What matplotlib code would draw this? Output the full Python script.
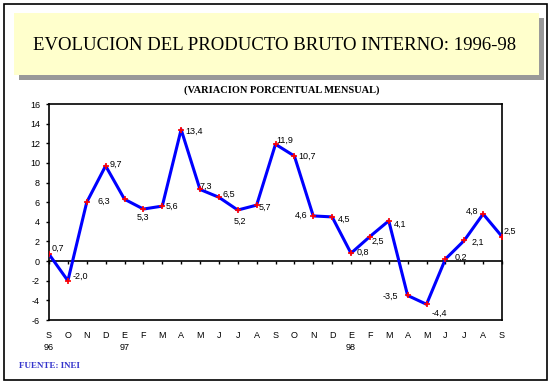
import numpy as np
import matplotlib.pyplot as plt
from matplotlib.patches import Rectangle

plt.rcParams['axes.unicode_minus'] = False

# datos: variacion porcentual mensual del PBI, set 96 - set 98
meses = ['S', 'O', 'N', 'D', 'E', 'F', 'M', 'A', 'M', 'J', 'J', 'A',
         'S', 'O', 'N', 'D', 'E', 'F', 'M', 'A', 'M', 'J', 'J', 'A', 'S']
anios = {0: '96', 4: '97', 16: '98'}
valores = [0.7, -2.0, 6.0, 9.7, 6.3, 5.3, 5.6, 13.4, 7.3, 6.5, 5.2, 5.7,
           11.9, 10.7, 4.6, 4.5, 0.8, 2.5, 4.1, -3.5, -4.4, 0.2, 2.1, 4.8, 2.5]
etiquetas = ['0,7', '-2,0', '', '9,7', '6,3', '5,3', '5,6', '13,4', '7,3', '6,5', '5,2', '5,7',
             '11,9', '10,7', '4,6', '4,5', '0,8', '2,5', '4,1', '-3,5', '-4,4', '0,2', '2,1', '4,8', '2,5']

# posicion de cada etiqueta (pixeles respecto al punto)
offs = [(3, 6, 'left'), (5, 4, 'left'), (0, 0, 'left'), (4, 2, 'left'), (-14, -2, 'right'),
        (0, -8, 'center'), (3, 0, 'left'), (4, -2, 'left'), (0, 3, 'left'), (4, 3, 'left'),
        (2, -11, 'center'), (2, -2, 'left'), (1, 4, 'left'), (4, 0, 'left'), (-6, 1, 'right'),
        (6, -2, 'left'), (6, 1, 'left'), (2, -5, 'left'), (5, -3, 'left'), (-10, -1, 'right'),
        (5, -9, 'left'), (9, 2, 'left'), (7, -2, 'left'), (-5, 3, 'right'), (2, 5, 'left')]

x = np.arange(len(valores))

W, H = 551, 384
fig = plt.figure(figsize=(W / 100, H / 100), dpi=100)

def fx(px):
    return px / W

def fy(py):
    return 1 - py / H

# marco exterior
fig.patches.append(Rectangle((fx(4), fy(380)), fx(547) - fx(4), fy(4) - fy(380),
                             transform=fig.transFigure, fill=False, ec='black', lw=1.2))
# caja del titulo con sombra
fig.patches.append(Rectangle((fx(19), fy(80)), fx(544) - fx(19), fy(18) - fy(80),
                             transform=fig.transFigure, fc='#999999', ec='none'))
fig.patches.append(Rectangle((fx(14), fy(75)), fx(539) - fx(14), fy(13) - fy(75),
                             transform=fig.transFigure, fc='#FFFFCC', ec='none'))

fig.text(fx(275), fy(45), 'EVOLUCION DEL PRODUCTO BRUTO INTERNO: 1996-98',
         family='Liberation Serif', fontsize=13.5, ha='center', va='center')
fig.text(fx(282), fy(90), '(VARIACION PORCENTUAL MENSUAL)', family='Liberation Serif',
         fontsize=7.5, fontweight='bold', ha='center', va='center')
fig.text(fx(19), fy(366), 'FUENTE: INEI', family='Liberation Serif', fontsize=6.5,
         fontweight='bold', color='#3333CC', ha='left', va='center')

ax = fig.add_axes([fx(49), fy(320), fx(502) - fx(49), fy(104) - fy(320)])
ax.plot(x, valores, color='#0000FF', lw=2.2, zorder=3)
ax.plot(x, valores, ls='none', marker='+', color='red', ms=4, mew=1.2, zorder=4)

for i in range(len(valores)):
    if etiquetas[i] == '':
        continue
    dx, dy, ha = offs[i]
    ax.annotate(etiquetas[i], (x[i], valores[i]), xytext=(dx, dy), textcoords='offset pixels',
                ha=ha, va='center', fontsize=6.5, family='Liberation Sans')

ax.set_xlim(0, len(valores) - 1)
ax.set_ylim(-6, 16)
ax.set_yticks(np.arange(-6, 17, 2))
ax.set_xticks(x)
ax.set_xticklabels([])
ax.spines['bottom'].set_position(('data', 0))
ax.axhline(-6, color='black', lw=1.2, clip_on=False)
for s in ax.spines.values():
    s.set_linewidth(1.2)
ax.tick_params(axis='y', length=2.5, width=1, pad=4, labelsize=6.5)
ax.tick_params(axis='x', length=2.5, width=1)
for lab in ax.get_yticklabels():
    lab.set_family('Liberation Sans')

for i, m in enumerate(meses):
    ax.text(x[i], -0.07, m, transform=ax.get_xaxis_transform(), ha='center', va='center',
            fontsize=6.5, family='Liberation Sans')
for i, a in anios.items():
    ax.text(x[i], -0.125, a, transform=ax.get_xaxis_transform(), ha='center', va='center',
            fontsize=6.5, family='Liberation Sans')

fig.savefig('out.png', dpi=100)
